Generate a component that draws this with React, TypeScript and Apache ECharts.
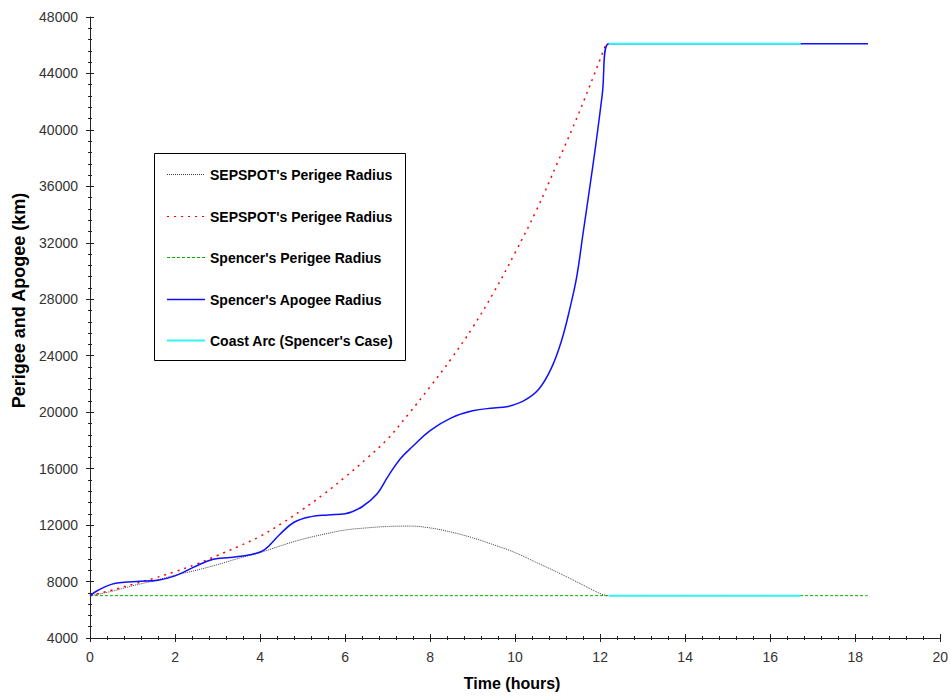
import React, { useEffect, useRef } from "react";
import * as echarts from "echarts";

// ---- data (time in hours, radius in km) ----
const sepPerigeeTime = [0, 0.5, 1, 1.5, 2, 2.5, 3, 3.5, 4, 4.5, 5, 5.5, 6, 6.5, 7, 7.5, 8, 8.5, 9, 9.5, 10, 10.5, 11, 11.5, 12, 12.15];
const sepPerigeeKm = [7000, 7300, 7700, 8050, 8450, 8800, 9200, 9650, 10050, 10550, 11000, 11350, 11650, 11800, 11900, 11930, 11800, 11500, 11100, 10600, 10050, 9350, 8650, 7900, 7150, 7000];

const sepApogeeTime = [0, 0.5, 1, 1.5, 2, 2.5, 3, 3.5, 4, 4.5, 5, 5.5, 6, 6.5, 7, 7.5, 8, 8.5, 9, 9.5, 10, 10.5, 11, 11.5, 12, 12.13];
const sepApogeeKm = [7000, 7380, 7800, 8230, 8700, 9230, 9850, 10500, 11200, 12100, 13100, 14200, 15400, 16700, 18100, 19900, 21800, 23800, 26000, 28500, 31300, 34300, 37700, 41200, 45000, 46050];

const spencerPerigeeTime = [0, 18.3];
const spencerPerigeeKm = [7000, 7000];

const spencerApogeeTime = [0, 0.2, 0.5, 0.8, 1.1, 1.6, 2.0, 2.5, 2.9, 3.3, 3.8, 4.1, 4.45, 4.8, 5.2, 5.6, 6.0, 6.4, 6.75, 7.0, 7.3, 7.6, 8.0, 8.5, 9.0, 9.5, 9.8, 10.2, 10.55, 10.85, 11.1, 11.3, 11.45, 11.6, 11.75, 11.9, 12.05, 12.2, 18.3];
const spencerApogeeKm = [7000, 7400, 7800, 7950, 8010, 8100, 8400, 9100, 9580, 9700, 9920, 10250, 11300, 12200, 12600, 12720, 12800, 13300, 14200, 15400, 16700, 17600, 18700, 19600, 20100, 20300, 20380, 20800, 21600, 23100, 25150, 27500, 29600, 32700, 35800, 39000, 42500, 46100, 46100];

const coastLowTime = [12.2, 16.72];
const coastLowKm = [7000, 7000];
const coastHighTime = [12.2, 16.72];
const coastHighKm = [46100, 46100];

// ---- labels ----
const legendLabels = [
  "SEPSPOT's Perigee Radius",
  "SEPSPOT's Perigee Radius",
  "Spencer's Perigee Radius",
  "Spencer's Apogee Radius",
  "Coast Arc (Spencer's Case)",
];
const xTitle = "Time (hours)";
const yTitle = "Perigee and Apogee (km)";
const xMin = 0, xMax = 20, xStep = 2;
const yMin = 4000, yMax = 48000, yStep = 4000;

const pairs = (t: number[], v: number[]) => t.map((x, i) => [x, v[i]]);

const FONT = "'Liberation Sans', Arial, Helvetica, sans-serif";

const C_BLACK = "#404040";
const C_RED = "#FF0000";
const C_GREEN = "#00B000";
const C_BLUE = "#1010FF";
const C_CYAN = "#33F5F5";
const D_BLACK = [1, 1];
const D_RED = [2, 5];
const D_GREEN = [3, 2];

const legendStyles = [
  { stroke: C_BLACK, lineWidth: 1, lineDash: D_BLACK },
  { stroke: C_RED, lineWidth: 1, lineDash: D_RED },
  { stroke: C_GREEN, lineWidth: 1, lineDash: D_GREEN },
  { stroke: C_BLUE, lineWidth: 1.5 },
  { stroke: C_CYAN, lineWidth: 2 },
];

export default function App() {
  const ref = useRef<HTMLDivElement>(null);
  useEffect(() => {
    if (!ref.current) return;
    const chart = echarts.init(ref.current, undefined, { renderer: "svg" });
    const tickColor = "#222";
    const mainX = {
      type: "value",
      position: "bottom",
      min: xMin,
      max: xMax,
      interval: xStep,
      name: xTitle,
      nameLocation: "middle",
      nameGap: 37,
      nameTextStyle: { fontFamily: FONT, fontSize: 16, fontWeight: "bold", color: "#000", padding: [0, 6, 0, 0] },
      axisLine: { show: true, onZero: false, lineStyle: { color: tickColor, width: 1 } },
      axisTick: { show: true, inside: false, length: 4, lineStyle: { color: tickColor } },
      minorTick: { show: true, splitNumber: 5, length: 2, lineStyle: { color: tickColor } },
      axisLabel: { fontFamily: FONT, fontSize: 14, color: "#333", margin: 12 },
      splitLine: { show: false },
    };
    const innerX = {
      type: "value",
      position: "bottom",
      min: xMin,
      max: xMax,
      interval: xStep,
      axisLine: { show: false, onZero: false },
      axisTick: { show: true, inside: true, length: 4, lineStyle: { color: tickColor } },
      minorTick: { show: true, splitNumber: 5, length: 2, lineStyle: { color: tickColor } },
      axisLabel: { show: false },
      splitLine: { show: false },
    };
    const mainY = {
      type: "value",
      position: "left",
      min: yMin,
      max: yMax,
      interval: yStep,
      name: yTitle,
      nameLocation: "middle",
      nameGap: 60,
      nameTextStyle: { fontFamily: FONT, fontSize: 18, fontWeight: "bold", color: "#000", padding: [0, 0, 0, 54] },
      axisLine: { show: true, onZero: false, lineStyle: { color: tickColor, width: 1 } },
      axisTick: { show: true, inside: false, length: 4, lineStyle: { color: tickColor } },
      minorTick: { show: true, splitNumber: 5, length: 2, lineStyle: { color: tickColor } },
      axisLabel: { fontFamily: FONT, fontSize: 14, color: "#333", margin: 12, formatter: (v: number) => String(v) },
      splitLine: { show: false },
    };
    const innerY = {
      type: "value",
      position: "left",
      min: yMin,
      max: yMax,
      interval: yStep,
      axisLine: { show: false, onZero: false },
      axisTick: { show: true, inside: true, length: 4, lineStyle: { color: tickColor } },
      minorTick: { show: true, splitNumber: 5, length: 2, lineStyle: { color: tickColor } },
      axisLabel: { show: false },
      splitLine: { show: false },
    };
    const base = { type: "line", showSymbol: false, symbol: "none", xAxisIndex: 0, yAxisIndex: 0, smooth: 0.4 };
    const coastStyle = { color: C_CYAN, width: 2 };

    // legend box drawn with graphic elements
    const boxW = 251, boxH = 207, firstY = 21, stepY = 41.5;
    const legendChildren: any[] = [
      { type: "rect", shape: { x: 0.5, y: 0.5, width: boxW, height: boxH }, style: { fill: "#fff", stroke: "#000", lineWidth: 1 } },
    ];
    legendLabels.forEach((label, i) => {
      const cy = Math.round(firstY + i * stepY) + 0.5;
      legendChildren.push({
        type: "line",
        shape: { x1: 13, y1: cy, x2: 51, y2: cy },
        style: { ...legendStyles[i], fill: null },
      });
      legendChildren.push({
        type: "text",
        x: 56,
        y: cy,
        style: { text: label, fontFamily: FONT, fontSize: 14, fontWeight: "bold", fill: "#000", align: "left", verticalAlign: "middle" },
      });
    });

    chart.setOption({
      animation: false,
      backgroundColor: "#fff",
      grid: { left: 90, right: 8, top: 17, bottom: 57 },
      xAxis: [mainX, innerX],
      yAxis: [mainY, innerY],
      graphic: [{ type: "group", x: 154, y: 153, z: 100, children: legendChildren }],
      series: [
        { ...base, name: legendLabels[2], data: pairs(spencerPerigeeTime, spencerPerigeeKm), lineStyle: { color: C_GREEN, width: 1, type: D_GREEN }, z: 2 },
        { ...base, name: legendLabels[0], data: pairs(sepPerigeeTime, sepPerigeeKm), lineStyle: { color: C_BLACK, width: 1, type: D_BLACK }, z: 3 },
        { ...base, name: legendLabels[1], data: pairs(sepApogeeTime, sepApogeeKm), lineStyle: { color: C_RED, width: 1.5, type: D_RED }, z: 4 },
        { ...base, name: legendLabels[3], data: pairs(spencerApogeeTime, spencerApogeeKm), lineStyle: { color: C_BLUE, width: 1.5 }, z: 5 },
        { ...base, name: legendLabels[4], data: pairs(coastLowTime, coastLowKm), lineStyle: coastStyle, z: 6, smooth: false },
        { ...base, name: legendLabels[4], data: pairs(coastHighTime, coastHighKm), lineStyle: coastStyle, z: 6, smooth: false },
      ],
    });
    return () => chart.dispose();
  }, []);
  return <div ref={ref} style={{ position: "fixed", left: 0, top: 0, width: 951, height: 696 }} />;
}
